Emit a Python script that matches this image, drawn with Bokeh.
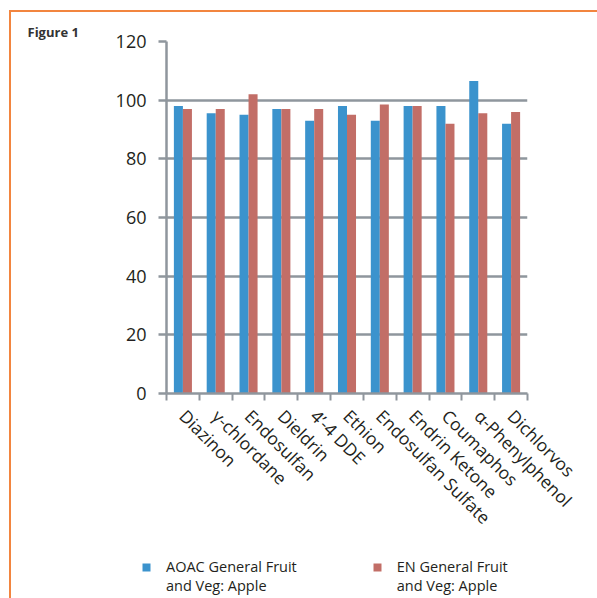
import math
from bokeh.plotting import figure
from bokeh.layouts import column
from bokeh.models import Range1d, FixedTicker, Legend, LegendItem, ColumnDataSource, Title
from bokeh.transform import dodge
from bokeh.embed import file_html
from bokeh.resources import INLINE

# ---- data ----
categories = ["Diazinon", "γ-chlordane", "Endosulfan", "Dieldrin", "4’-4 DDE", "Ethion",
              "Endosulfan Sulfate", "Endrin Ketone", "Coumaphos", "α-Phenylphenol", "Dichlorvos"]
aoac = [98, 95.5, 95, 97, 93, 98, 93, 98, 98, 106.5, 92]
en = [97, 97, 102, 97, 97, 95, 98.5, 98, 92, 95.5, 96]
y_ticks = [0, 20, 40, 60, 80, 100, 120]
series_names = ["AOAC General Fruit\nand Veg: Apple", "EN General Fruit\nand Veg: Apple"]
series_colors = ["#3b93cd", "#c26e67"]

AXIS = "#8f969d"
TXT = "#231f20"
FONT = "Open Sans"

idx = list(range(len(categories)))
src = ColumnDataSource(dict(x=idx, aoac=aoac, en=en))

p = figure(width=586, height=529, output_backend="svg", toolbar_location=None,
           x_range=Range1d(-0.5, len(categories) - 0.5), y_range=Range1d(0, 120),
           min_border_left=155, min_border_right=70, min_border_top=29, min_border_bottom=148)
p.outline_line_color = None
p.background_fill_color = "white"
p.border_fill_color = "white"

bw = 0.275
r1 = p.vbar(x=dodge("x", -bw / 2), top="aoac", width=bw, source=src,
            fill_color=series_colors[0], line_color=None)
r2 = p.vbar(x=dodge("x", bw / 2), top="en", width=bw, source=src,
            fill_color=series_colors[1], line_color=None)

# axes
p.xaxis.ticker = FixedTicker(ticks=idx, minor_ticks=[i - 0.5 for i in range(len(categories) + 1)])
p.xaxis.major_label_overrides = {i: c for i, c in zip(idx, categories)}
p.xaxis.major_label_orientation = -math.pi / 4
p.xaxis.major_tick_line_color = None
p.xaxis.minor_tick_line_color = AXIS
p.xaxis.minor_tick_line_width = 2
p.xaxis.minor_tick_out = 7
p.xaxis.minor_tick_in = 0
p.xaxis.axis_line_color = AXIS
p.xaxis.axis_line_width = 2.5
p.xaxis.major_label_text_font = FONT
p.xaxis.major_label_text_font_size = "17.5px"
p.xaxis.major_label_text_color = TXT
p.xaxis.major_label_standoff = 12

p.yaxis.ticker = FixedTicker(ticks=y_ticks)
p.yaxis.minor_tick_line_color = None
p.yaxis.major_tick_line_color = AXIS
p.yaxis.major_tick_line_width = 2.5
p.yaxis.major_tick_out = 8
p.yaxis.major_tick_in = 0
p.yaxis.axis_line_color = AXIS
p.yaxis.axis_line_width = 2.5
p.yaxis.major_label_text_font = FONT
p.yaxis.major_label_text_font_size = "18px"
p.yaxis.major_label_text_color = TXT
p.yaxis.major_label_standoff = 12

p.xgrid.grid_line_color = None
p.ygrid.grid_line_color = AXIS
p.ygrid.grid_line_width = 2.5

p.add_layout(Title(text="Figure 1", align="left", offset=-139, standoff=2,
                   text_font=FONT, text_font_style="bold", text_font_size="13px",
                   text_color="#333333"), "above")

# legend strip (separate small figure below the chart)
p2 = figure(width=586, height=57, output_backend="svg", toolbar_location=None,
            x_range=Range1d(0, 1), y_range=Range1d(0, 1), x_axis_type=None, y_axis_type=None,
            min_border_left=0, min_border_right=0, min_border_top=0, min_border_bottom=0)
p2.outline_line_color = None
p2.grid.visible = False
l1 = p2.vbar(x="x", top="aoac", width=bw, source=src, fill_color=series_colors[0],
             line_color=None, visible=False)
l2 = p2.vbar(x="x", top="en", width=bw, source=src, fill_color=series_colors[1],
             line_color=None, visible=False)
# a leading empty line keeps each square level with the first line of its label
legend = Legend(items=[LegendItem(label="\n" + series_names[0], renderers=[l1]),
                       LegendItem(label="\n" + series_names[1], renderers=[l2])],
                location=(130, 3), orientation="horizontal",
                glyph_width=10, glyph_height=10, label_standoff=15, spacing=75,
                padding=0, margin=0, border_line_color=None, background_fill_alpha=0,
                label_text_font=FONT, label_text_font_size="14.5px", label_text_color=TXT,
                label_text_line_height=1.38)
p2.add_layout(legend, "center")

layout = column(column(p, spacing=0), column(p2, spacing=0), spacing=0,
                styles={"border-top": "2px solid #f2853f", "border-left": "2px solid #f2853f",
                        "margin-left": "9px", "margin-top": "10px"})

open("out.html", "w").write(file_html(layout, INLINE))
